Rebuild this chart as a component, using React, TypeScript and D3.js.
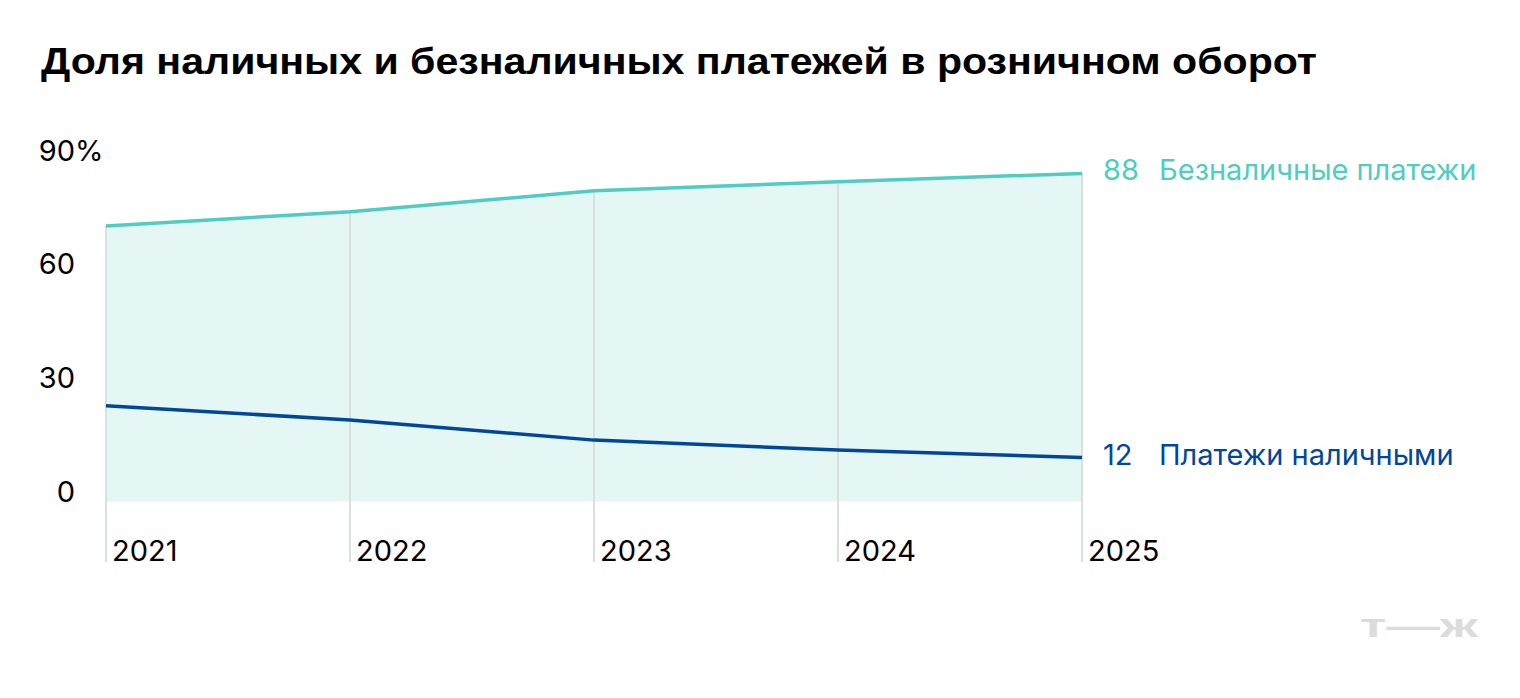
import React, { useEffect } from 'react';
import * as d3 from 'd3';

// Values (share of retail turnover, %)
const years = ['2021', '2022', '2023', '2024', '2025'];
const cashless = [72.7, 76.5, 82, 84.4, 86.6];
const cash = [25.3, 21.5, 16.2, 13.6, 11.6];
const yTicks = [0, 30, 60, 90];
const seriesNames = ['Безналичные платежи', 'Платежи наличными'];
const endLabels = ['88', '12'];

const W = 1520;
const H = 698;
const FONT = 'Inter, "Noto Sans", sans-serif';
const TITLE_FONT = '"Liberation Sans", Arial, sans-serif';
const TEAL = '#4fcdc1';
const BLUE = '#00479c';

const App: React.FC = () => {
    useEffect(() => {
        document.body.style.margin = '0';
    }, []);

    const x = d3.scalePoint<string>().domain(years).range([106, 1082]);
    const y = d3.scaleLinear().domain([0, 90]).range([501.5, 160.5]);

    const area = d3.area<number>()
        .x((_, i) => x(years[i]) as number)
        .y0(y(0))
        .y1(d => y(d));

    const line = d3.line<number>()
        .x((_, i) => x(years[i]) as number)
        .y(d => y(d));

    const series = [
        { values: cashless, color: TEAL, name: seriesNames[0], label: endLabels[0] },
        { values: cash, color: BLUE, name: seriesNames[1], label: endLabels[1] },
    ];

    const last = years.length - 1;
    const xEnd = x(years[last]) as number;

    return (
        <svg width={W} height={H} style={{ display: 'block', background: '#fff' }} fontFamily={FONT}>
            <text x={41} y={74} fontFamily={TITLE_FONT} fontSize={36} fontWeight={700} fill="#000" textLength={1276} lengthAdjust="spacingAndGlyphs">
                Доля наличных и безналичных платежей в розничном оборот
            </text>

            {/* filled area under cashless line */}
            <path d={area(cashless) || ''} fill="#e4f7f5" />

            {/* vertical year lines */}
            {years.map((yr, i) => (
                <line
                    key={yr}
                    x1={x(yr)}
                    x2={x(yr)}
                    y1={y(cashless[i])}
                    y2={562}
                    stroke="#d9e0df"
                    strokeWidth={2}
                />
            ))}

            {/* y tick labels */}
            {yTicks.map(t => (
                <g key={t}>
                    <text x={75} y={y(t)} fontSize={29} textAnchor="end" fill="#000">{t}</text>
                    {t === 90 && <text x={75} y={y(t)} fontSize={29} fill="#000">%</text>}
                </g>
            ))}

            {/* x labels */}
            {years.map(yr => (
                <text key={yr} x={(x(yr) as number) + 6} y={561} fontSize={29} fill="#000">{yr}</text>
            ))}

            {series.map(s => (
                <g key={s.name}>
                    <path d={line(s.values) || ''} fill="none" stroke={s.color} strokeWidth={3.5} strokeLinejoin="round" />
                    <text x={xEnd + 21} y={y(s.values[last]) + 7} fontSize={29} fill={s.color}>{s.label}</text>
                    <text x={xEnd + 77} y={y(s.values[last]) + 7} fontSize={29} fill={s.color}>{s.name}</text>
                </g>
            ))}

            {/* watermark */}
            <text x={1360} y={637} fontFamily={TITLE_FONT} fontSize={34} fontWeight={700} fill="#dcdcdc" textLength={118} lengthAdjust="spacingAndGlyphs">
                т—ж
            </text>
        </svg>
    );
};

export default App;
